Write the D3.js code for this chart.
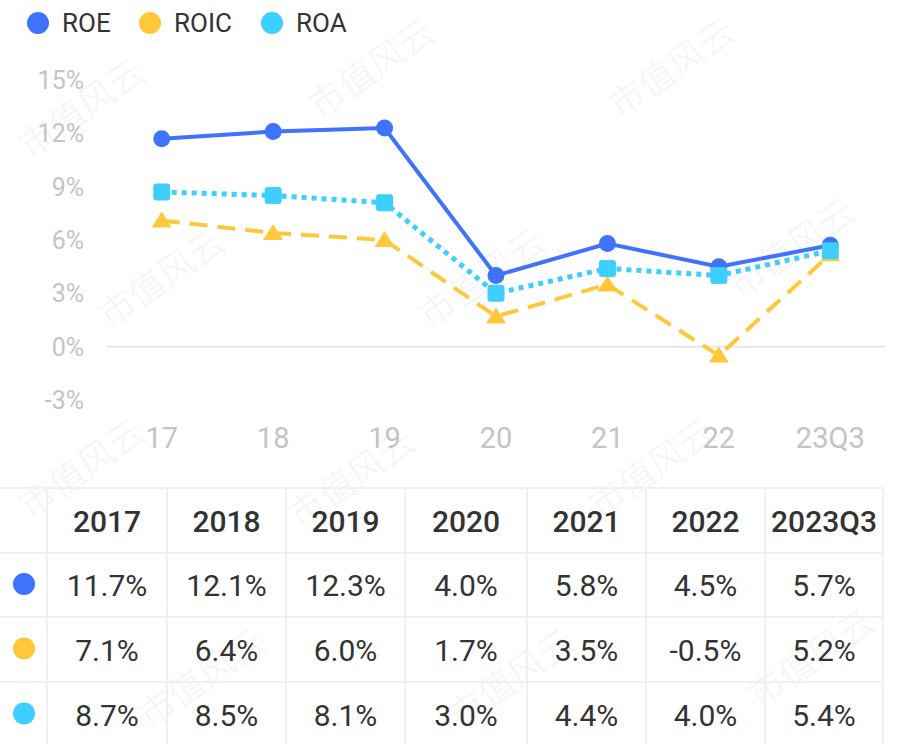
<!DOCTYPE html>
<html>
<head>
<meta charset="utf-8">
<script src="https://cdn.jsdelivr.net/npm/d3@7"></script>
<style>
  body { margin: 0; background: #fff; }
  svg { display: block; font-family: Roboto, "Noto Sans", sans-serif; }
</style>
</head>
<body>
<div id="vis"></div>
<script>
// data
var periods = ["2017", "2018", "2019", "2020", "2021", "2022", "2023Q3"];
var axisLabels = ["17", "18", "19", "20", "21", "22", "23Q3"];
var roe = [11.7, 12.1, 12.3, 4.0, 5.8, 4.5, 5.7];
var roic = [7.1, 6.4, 6.0, 1.7, 3.5, -0.5, 5.2];
var roa = [8.7, 8.5, 8.1, 3.0, 4.4, 4.0, 5.4];
var yTicks = [-3, 0, 3, 6, 9, 12, 15];

var series = [
  {name: "ROE", values: roe, color: "#3f72ff", dash: null, marker: "circle"},
  {name: "ROIC", values: roic, color: "#ffc83a", dash: "18,10", marker: "triangle"},
  {name: "ROA", values: roa, color: "#3ccfff", dash: "5,5", marker: "square"}
];

var width = 900, height = 744;
var svg = d3.select("#vis").append("svg")
    .attr("width", width)
    .attr("height", height);

// faint watermark, kept inside the frame
var wmSpots = [[30, 160], [320, 120], [620, 120], [110, 330], [430, 330], [740, 300],
               [30, 520], [300, 530], [600, 520], [150, 730], [460, 730], [760, 710]];
svg.append("g").attr("class", "watermark").selectAll("text")
  .data(wmSpots).enter().append("text")
  .attr("transform", function (d) { return "translate(" + d[0] + "," + d[1] + ") rotate(-35)"; })
  .attr("font-size", 36)
  .attr("fill", "#f5f5f5")
  .attr("font-family", "'Noto Sans CJK SC', sans-serif")
  .attr("font-weight", 300)
  .text("市值风云");

// scales
var x = d3.scaleBand().domain(axisLabels).range([106, 886]);
var y = d3.scaleLinear().domain([-3, 15]).range([400, 80]);
function cx(i) { return x(axisLabels[i]) + x.bandwidth() / 2; }

// legend
var legendX = [38, 150, 272];
series.forEach(function (s, i) {
  svg.append("circle")
    .attr("cx", legendX[i]).attr("cy", 23).attr("r", 11)
    .attr("fill", s.color);
  svg.append("text")
    .attr("x", legendX[i] + 24).attr("y", 32)
    .attr("font-size", 26)
    .attr("fill", "#333")
    .text(s.name);
});

// y axis labels
svg.append("g").selectAll("text")
  .data(yTicks).enter().append("text")
  .attr("x", 84)
  .attr("y", function (d) { return y(d) + 9; })
  .attr("text-anchor", "end")
  .attr("font-size", 25)
  .attr("fill", "#c4c4c4")
  .text(function (d) { return d + "%"; });

// zero line
svg.append("line")
  .attr("x1", 106).attr("x2", 886)
  .attr("y1", y(0)).attr("y2", y(0))
  .attr("stroke", "#e8e8e8").attr("stroke-width", 2);

// x axis labels
svg.append("g").selectAll("text")
  .data(axisLabels).enter().append("text")
  .attr("x", function (d, i) { return cx(i); })
  .attr("y", 448)
  .attr("text-anchor", "middle")
  .attr("font-size", 29)
  .attr("fill", "#c4c4c4")
  .text(function (d) { return d; });

// lines and markers
var line = d3.line()
  .x(function (d, i) { return cx(i); })
  .y(function (d) { return y(d); });

var drawOrder = [series[1], series[0], series[2]];
drawOrder.forEach(function (s) {
  svg.append("path")
    .datum(s.values)
    .attr("d", line)
    .attr("fill", "none")
    .attr("stroke", s.color)
    .attr("stroke-width", s.marker == "square" ? 5 : 4)
    .attr("stroke-dasharray", s.dash);

  var g = svg.append("g");
  s.values.forEach(function (v, i) {
    var px = cx(i), py = y(v);
    if (s.marker == "circle") {
      g.append("circle").attr("cx", px).attr("cy", py).attr("r", 8.5).attr("fill", s.color);
    } else if (s.marker == "square") {
      g.append("rect").attr("x", px - 8.5).attr("y", py - 8.5)
        .attr("width", 17).attr("height", 17).attr("rx", 3).attr("fill", s.color);
    } else {
      g.append("path")
        .attr("d", "M" + px + "," + (py - 9) + "L" + (px + 10) + "," + (py + 7) + "L" + (px - 10) + "," + (py + 7) + "Z")
        .attr("fill", s.color);
    }
  });
});

// table
var colEdges = [0, 47, 167, 286, 405, 527, 646, 765, 883];
var rowEdges = [488, 553, 617, 682, 747];
var tbl = svg.append("g").attr("class", "table");

colEdges.slice(1).forEach(function (cxe) {
  tbl.append("line")
    .attr("x1", cxe).attr("x2", cxe)
    .attr("y1", 488).attr("y2", 744)
    .attr("stroke", "#f0f0f0").attr("stroke-width", 2);
});
rowEdges.slice(0, 4).forEach(function (ry) {
  tbl.append("line")
    .attr("x1", 0).attr("x2", 883)
    .attr("y1", ry).attr("y2", ry)
    .attr("stroke", "#f0f0f0").attr("stroke-width", 2);
});

periods.forEach(function (p, i) {
  tbl.append("text")
    .attr("x", (colEdges[i + 1] + colEdges[i + 2]) / 2)
    .attr("y", 532)
    .attr("text-anchor", "middle")
    .attr("font-size", 30)
    .attr("font-weight", 500)
    .attr("fill", "#333")
    .text(p);
});

series.forEach(function (s, r) {
  var midY = (rowEdges[r + 1] + rowEdges[r + 2]) / 2;
  tbl.append("circle")
    .attr("cx", 24).attr("cy", midY - 1).attr("r", 11)
    .attr("fill", s.color);
  s.values.forEach(function (v, i) {
    tbl.append("text")
      .attr("x", (colEdges[i + 1] + colEdges[i + 2]) / 2)
      .attr("y", midY + 11)
      .attr("text-anchor", "middle")
      .attr("font-size", 30)
      .attr("fill", "#333")
      .text(v.toFixed(1) + "%");
  });
});
</script>
</body>
</html>
